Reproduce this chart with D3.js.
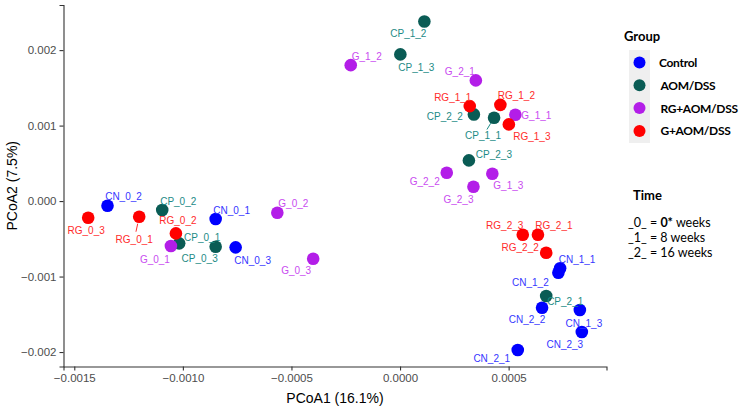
<!DOCTYPE html>
<html>
<head>
<meta charset="utf-8">
<script src="https://cdn.jsdelivr.net/npm/d3@7"></script>
<style>
  body { margin: 0; background: #fff; }
  svg { display: block; }
</style>
</head>
<body>
<svg width="744" height="407"></svg>
<script>
// groups as they appear in the legend
const GROUPS = ['Control', 'AOM/DSS', 'RG+AOM/DSS', 'G+AOM/DSS'];
const GROUP_COLORS = ['#0000ff', '#0a5c55', '#b31ee8', '#ff0000'];
const LABEL_COLORS = ['#3636ff', '#1d8b86', '#c94cf0', '#ff2b2b'];

// samples (name, group, PCoA1, PCoA2)
const SAMPLES = ['CN_0_1','CN_0_2','CN_0_3','CN_1_1','CN_1_2','CN_1_3','CN_2_1','CN_2_2','CN_2_3',
  'CP_0_1','CP_0_2','CP_0_3','CP_1_1','CP_1_2','CP_1_3','CP_2_1','CP_2_2','CP_2_3',
  'G_0_1','G_0_2','G_0_3','G_1_1','G_1_2','G_1_3','G_2_1','G_2_2','G_2_3',
  'RG_0_1','RG_0_2','RG_0_3','RG_1_1','RG_1_2','RG_1_3','RG_2_1','RG_2_2','RG_2_3'];
const SAMPLE_GROUP = ['Control','Control','Control','Control','Control','Control','Control','Control','Control',
  'AOM/DSS','AOM/DSS','AOM/DSS','AOM/DSS','AOM/DSS','AOM/DSS','AOM/DSS','AOM/DSS','AOM/DSS',
  'RG+AOM/DSS','RG+AOM/DSS','RG+AOM/DSS','RG+AOM/DSS','RG+AOM/DSS','RG+AOM/DSS','RG+AOM/DSS','RG+AOM/DSS','RG+AOM/DSS',
  'G+AOM/DSS','G+AOM/DSS','G+AOM/DSS','G+AOM/DSS','G+AOM/DSS','G+AOM/DSS','G+AOM/DSS','G+AOM/DSS','G+AOM/DSS'];
const PCOA1 = [-0.000849,-0.001347,-0.000757, 0.000737, 0.000729, 0.000828, 0.000542, 0.000654, 0.000837,
  -0.001017,-0.001095,-0.000849, 0.000433, 0.000112, 0.0000014, 0.000673, 0.000340, 0.000317,
  -0.001055,-0.000565,-0.000400, 0.000531,-0.000227, 0.000425, 0.000349, 0.000215, 0.000338,
  -0.001201,-0.001032,-0.001436, 0.000321, 0.000462, 0.000501, 0.000635, 0.000673, 0.000565];
const PCOA2 = [-0.000238,-0.0000623,-0.000613,-0.000891,-0.000950,-0.001444,-0.001974,-0.001413,-0.001735,
  -0.000560,-0.000119,-0.000605, 0.001103, 0.002380, 0.001943,-0.001258, 0.001148, 0.000539,
  -0.000596,-0.000155,-0.000764, 0.001143, 0.001801, 0.000362, 0.001599, 0.000375, 0.000189,
  -0.000208,-0.000428,-0.000221, 0.001258, 0.001275, 0.001016,-0.000446,-0.000685,-0.000446];

const X_TICKS = [-0.0015, -0.0010, -0.0005, 0.0000, 0.0005];
const Y_TICKS = [-0.002, -0.001, 0.000, 0.001, 0.002];
const TIME_LINES = [['_0_ = ', '0*', ' weeks'], ['_1_ = 8 weeks'], ['_2_ = 16 weeks']];

// label placement (pixel offsets from the point, like ggrepel gave)
const labelNudge = {
  CN_0_1:[16,-9], CN_0_2:[16,-9], CN_0_3:[17,13], CN_1_1:[17,-9], CN_1_2:[-28,10], CN_1_3:[4,13],
  CN_2_1:[-26,8], CN_2_2:[-15,12], CN_2_3:[-17,12],
  CP_0_1:[23,-6], CP_0_2:[16,-9], CP_0_3:[-16,12], CP_1_1:[-11,18], CP_1_2:[-16,12], CP_1_3:[16,13],
  CP_2_1:[19,5], CP_2_2:[-29,2], CP_2_3:[25,-6],
  G_0_1:[-16,13], G_0_2:[16,-9], G_0_3:[-17,12], G_1_1:[21,1], G_1_2:[16,-9], G_1_3:[16,12],
  G_2_1:[-16,-9], G_2_2:[-22,9], G_2_3:[-15,13],
  RG_0_1:[-5,23], RG_0_2:[2,-13], RG_0_3:[-2,13], RG_1_1:[-17,-9], RG_1_2:[16,-9], RG_1_3:[23,12],
  RG_2_1:[16,-9], RG_2_2:[-26,-5], RG_2_3:[-18,-9]
};
const withSegment = ['CP_1_1', 'RG_0_1'];

const svg = d3.select('svg');
const panel = { left: 63.5, right: 606.5, top: 5, bottom: 366.5 };

// ggplot style 5% expansion
function expand(ext) {
  const pad = (ext[1] - ext[0]) * 0.05;
  return [ext[0] - pad, ext[1] + pad];
}
const xScale = d3.scaleLinear().domain(expand(d3.extent(PCOA1))).range([panel.left, panel.right]);
const yScale = d3.scaleLinear().domain(expand(d3.extent(PCOA2))).range([panel.bottom, panel.top]);
const color = d3.scaleOrdinal().domain(GROUPS).range(GROUP_COLORS);
const labelColor = d3.scaleOrdinal().domain(GROUPS).range(LABEL_COLORS);

const data = SAMPLES.map((name, i) => ({ name, group: SAMPLE_GROUP[i], x: PCOA1[i], y: PCOA2[i] }));

// axes
const fmtX = d => d3.format('.4f')(d).replace('-', '\u2212');
const fmtY = d => d3.format('.3f')(d).replace('-', '\u2212');

const xAxis = svg.append('g')
  .attr('transform', `translate(0,${panel.bottom})`)
  .call(d3.axisBottom(xScale).tickValues(X_TICKS).tickFormat(fmtX).tickSizeOuter(0).tickSize(4).tickPadding(3));
const yAxis = svg.append('g')
  .attr('transform', `translate(${panel.left},0)`)
  .call(d3.axisLeft(yScale).tickValues(Y_TICKS).tickFormat(fmtY).tickSizeOuter(0).tickSize(4).tickPadding(3));

[xAxis, yAxis].forEach(ax => {
  ax.select('.domain').attr('stroke', '#333').attr('stroke-width', 1.1);
  ax.selectAll('.tick line').attr('stroke', '#333').attr('stroke-width', 1.1);
  ax.selectAll('.tick text').attr('fill', '#4d4d4d')
    .style('font-family', 'Liberation Sans, Arial, sans-serif').style('font-size', '11.5px');
});

svg.append('text')
  .attr('x', (panel.left + panel.right) / 2).attr('y', 403)
  .attr('text-anchor', 'middle')
  .style('font-family', 'Liberation Sans, Arial, sans-serif').style('font-size', '14px')
  .text('PCoA1 (16.1%)');
svg.append('text')
  .attr('transform', `translate(17,${(panel.top + panel.bottom) / 2}) rotate(-90)`)
  .attr('text-anchor', 'middle')
  .style('font-family', 'Liberation Sans, Arial, sans-serif').style('font-size', '14px')
  .text('PCoA2 (7.5%)');

// label leader segments
svg.append('g').selectAll('line')
  .data(data.filter(d => withSegment.includes(d.name)))
  .enter().append('line')
  .attr('x1', d => xScale(d.x) + labelNudge[d.name][0] * 0.3)
  .attr('y1', d => yScale(d.y) + labelNudge[d.name][1] * 0.3)
  .attr('x2', d => xScale(d.x) + labelNudge[d.name][0] * 0.65)
  .attr('y2', d => yScale(d.y) + labelNudge[d.name][1] * 0.65)
  .attr('stroke', d => labelColor(d.group))
  .attr('stroke-width', 1);

// points
svg.append('g').selectAll('circle')
  .data(data)
  .enter().append('circle')
  .attr('cx', d => xScale(d.x))
  .attr('cy', d => yScale(d.y))
  .attr('r', 6.3)
  .attr('fill', d => color(d.group));

// point labels
svg.append('g').selectAll('text')
  .data(data)
  .enter().append('text')
  .attr('x', d => xScale(d.x) + labelNudge[d.name][0])
  .attr('y', d => yScale(d.y) + labelNudge[d.name][1])
  .attr('text-anchor', 'middle')
  .attr('dominant-baseline', 'central')
  .attr('fill', d => labelColor(d.group))
  .style('font-family', 'Liberation Sans, Arial, sans-serif').style('font-size', '10px')
  .text(d => d.name);

// legend: Group
const legend = svg.append('g').style('font-family', 'Lato, sans-serif');
legend.append('text').attr('x', 624).attr('y', 41)
  .style('font-size', '13px').style('font-weight', 'bold').text('Group');
legend.append('rect').attr('x', 629).attr('y', 50).attr('width', 21).attr('height', 93).attr('fill', '#efefef');
const keys = legend.selectAll('g.key')
  .data(GROUPS)
  .enter().append('g')
  .attr('transform', (d, i) => `translate(0,${62.5 + i * 22.8})`);
keys.append('circle').attr('cx', 639.5).attr('cy', 0).attr('r', 6).attr('fill', d => color(d));
keys.append('text').attr('x', (d, i) => i === 0 ? 659 : 660.5).attr('y', 0)
  .attr('dominant-baseline', 'central')
  .style('font-size', '12px').style('font-weight', 'bold').style('letter-spacing', '-0.3px')
  .text(d => d);

// legend: Time
legend.append('text').attr('x', 633).attr('y', 200)
  .style('font-size', '13px').style('font-weight', 'bold').text('Time');
const timeText = legend.selectAll('text.time')
  .data(TIME_LINES)
  .enter().append('text')
  .attr('class', 'time')
  .attr('x', 628)
  .attr('y', (d, i) => 227 + i * 15)
  .style('font-size', '12.5px');
timeText.selectAll('tspan')
  .data(d => d)
  .enter().append('tspan')
  .style('font-weight', d => d === '0*' ? 'bold' : 'normal')
  .text(d => d);
</script>
</body>
</html>
